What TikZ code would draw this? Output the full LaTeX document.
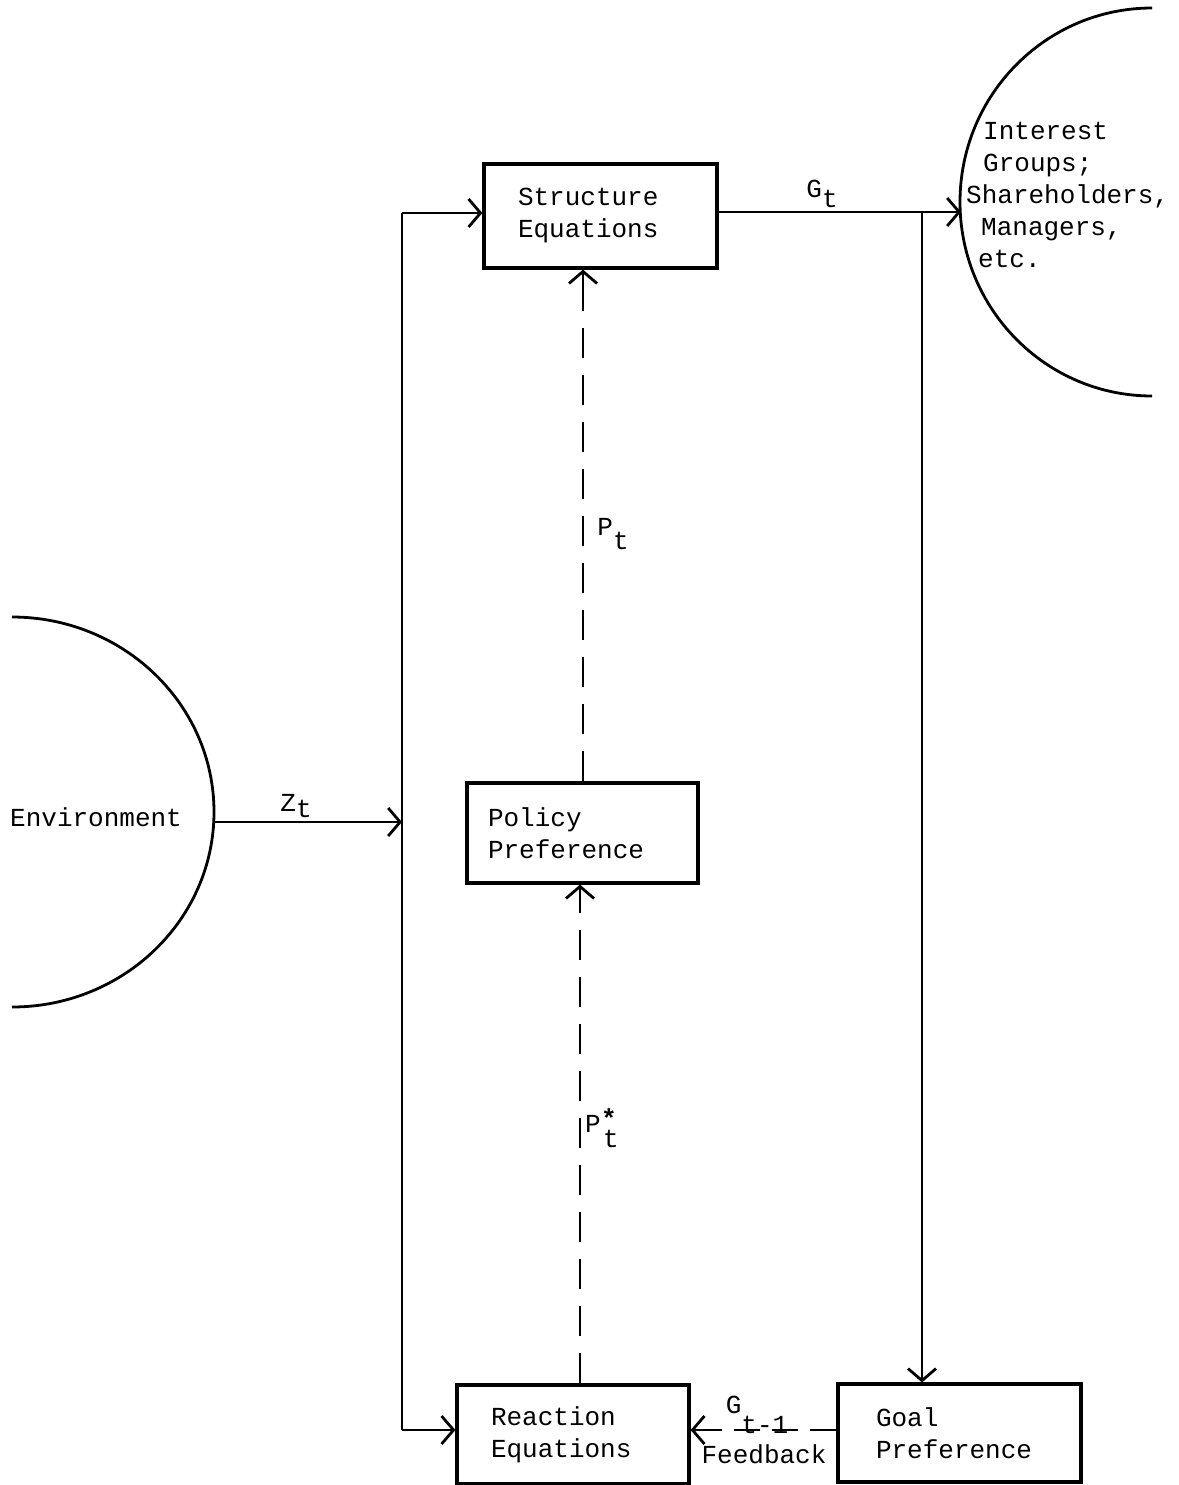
\documentclass[tikz,border=0pt]{standalone}
\usepackage{fontspec}
\setmainfont{Liberation Mono}
\usetikzlibrary{arrows.meta}
\begin{document}
\begin{tikzpicture}[x=1pt,y=-1pt,
  lbl/.style={font=\fontsize{26}{32}\selectfont, inner sep=0pt},
  boxnode/.style={draw, line width=3.2pt, align=left, font=\fontsize{26}{32}\selectfont, inner ysep=0pt},
  arr/.style={line width=2.8pt, -{Straight Barb[length=12pt,width=28pt,line width=2.8pt]}},
  ln/.style={line width=2.8pt},
  dsh/.style={line width=2.8pt, dash pattern=on 30pt off 17pt}
]
\useasboundingbox (0,0) rectangle (1178,1485);
% boxes
\node[boxnode, minimum width=233pt, minimum height=104pt, inner xsep=34pt, text width=165pt] (se) at (600.5,216) {Structure\\Equations};
\node[boxnode, minimum width=231pt, minimum height=100pt, inner xsep=21pt, text width=189pt] (pp) at (582.5,833) {Policy\\Preference};
\node[boxnode, minimum width=232pt, minimum height=99pt, inner xsep=34pt, text width=164pt] (re) at (573,1434.5) {Reaction\\Equations};
\node[boxnode, minimum width=243pt, minimum height=98pt, inner xsep=38pt, text width=167pt] (gp) at (959.5,1433) {Goal\\Preference};
% environment
\draw[ln] (12,617) arc[start angle=-90, end angle=90, x radius=202, y radius=195];
\node[lbl, anchor=west] (env) at (10,817) {Environment};
% interest groups
\draw[ln] (1152,8) arc[start angle=-90, end angle=-270, x radius=192, y radius=194];
\node[lbl, anchor=north west, align=left] (ig) at (966,122) {\hspace{17pt}Interest\\\hspace{17pt}Groups;\\Shareholders,\\\hspace{15pt}Managers,\\\hspace{12pt}etc.};
% coordinates
\coordinate (lt) at (402,213);
\coordinate (lb) at (402,1430);
\coordinate (zt) at (402,822);
\coordinate (envR) at (214,822);
\coordinate (igL) at (961,212);
\coordinate (gj) at (922,212);
% connectors
\draw[ln] (lb) -- (lt);
\draw[arr] (lt) -- (se.west |- lt);
\draw[arr] (lb) -- (re.west |- lb);
\draw[arr] (envR) -- (zt);
\draw[arr] (se.east |- igL) -- (igL);
\draw[arr] (gj) -- (gp.north -| gj);
\draw[dsh] (pp.north -| 583,0) -- (583,290);
\draw[arr] (583,290) -- (se.south -| 583,0);
\draw[dsh] (re.north -| 580,0) -- (580,905);
\draw[arr] (580,905) -- (pp.south -| 580,0);
\draw[dsh, dash pattern=on 26pt off 12pt] (gp.west |- 0,1430) -- (705,1430);
\draw[arr] (705,1430) -- (re.east |- 0,1430);
% labels
\node[lbl] (zl) at (296,806) {Z\raisebox{-6pt}{t}};
\node[lbl] (gl) at (822,194) {G\raisebox{-10pt}{t}};
\node[lbl] (pl) at (613,534) {P\raisebox{-14pt}{t}};
\node[lbl, anchor=west] (psl) at (585,1124) {P};
\node[lbl, anchor=south west] (pst) at (601,1128) {\bfseries *};
\node[lbl, anchor=north west] (pt2) at (603,1130) {t};
\node[lbl] (gtl) at (757,1415) {G\raisebox{-20pt}{t-1}};
\node[lbl] (fb) at (764,1454) {Feedback};
\end{tikzpicture}
\end{document}
